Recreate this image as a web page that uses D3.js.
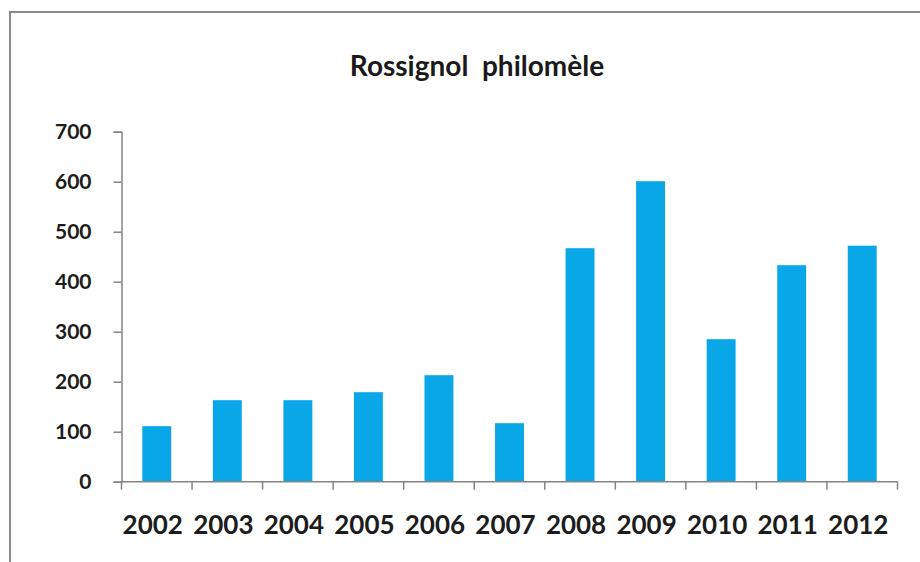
<!DOCTYPE html>
<html>
<head>
<meta charset="utf-8">
<script src="https://cdn.jsdelivr.net/npm/d3@7"></script>
<style>
  html, body { margin: 0; padding: 0; background: #fff; }
  svg { display: block; }
</style>
</head>
<body>
<svg id="chart" width="920" height="562"></svg>
<script>
// Annual counts, Rossignol philomèle
const years = ["2002", "2003", "2004", "2005", "2006", "2007", "2008", "2009", "2010", "2011", "2012"];
const counts = [111, 163, 163, 179, 213, 117, 467, 601, 285, 433, 472];
const yTicks = [0, 100, 200, 300, 400, 500, 600, 700];
const title = "Rossignol  philomèle";

const svg = d3.select("#chart");
const W = 920, H = 562;

// frame (only top and left edges fall inside the canvas)
svg.append("rect")
  .attr("x", 10).attr("y", 12)
  .attr("width", W + 20).attr("height", H + 20)
  .attr("fill", "#fff")
  .attr("stroke", "#8a8a8a").attr("stroke-width", 2);

const x = d3.scaleBand()
  .domain(years)
  .range([121.5, 897.5])
  .paddingInner(0.59)
  .paddingOuter(0.295);

const y = d3.scaleLinear()
  .domain([0, 700])
  .range([481.7, 131.7]);

// bars
svg.append("g")
  .selectAll("rect")
  .data(years.map((yr, i) => ({ yr, v: counts[i] })))
  .join("rect")
  .attr("x", d => x(d.yr))
  .attr("y", d => y(d.v))
  .attr("width", x.bandwidth())
  .attr("height", d => y(0) - y(d.v))
  .attr("fill", "#09a7e7");

const axisColor = "#858585";
const labelFont = "Lato, 'Open Sans', sans-serif";

// y axis
const yAxis = svg.append("g")
  .attr("transform", "translate(121.5,0)")
  .call(d3.axisLeft(y).tickValues(yTicks).tickSize(8).tickPadding(22).tickFormat(d3.format("d")));
yAxis.select(".domain").attr("stroke", axisColor).attr("stroke-width", 1.5);
yAxis.selectAll(".tick line").attr("stroke", axisColor).attr("stroke-width", 1.5);
yAxis.selectAll(".tick text")
  .attr("fill", "#1c1c1c")
  .style("font-family", labelFont)
  .style("font-weight", "bold")
  .style("font-size", "21px");

// x axis: ticks sit on the category boundaries
const xAxisG = svg.append("g").attr("transform", "translate(0,481.7)");
xAxisG.append("line")
  .attr("x1", 121.5).attr("x2", 897.5)
  .attr("stroke", axisColor).attr("stroke-width", 1.5);
const bounds = years.map(yr => x(yr) - x.step() * x.paddingInner() / 2).concat([897.5]);
bounds[0] = 121.5;
xAxisG.selectAll("line.tk")
  .data(bounds)
  .join("line")
  .attr("class", "tk")
  .attr("x1", d => d).attr("x2", d => d)
  .attr("y1", 0).attr("y2", 8)
  .attr("stroke", axisColor).attr("stroke-width", 1.5);
xAxisG.selectAll("text")
  .data(years)
  .join("text")
  .attr("x", d => x(d) + x.bandwidth() / 2 - 4)
  .attr("y", 52)
  .attr("text-anchor", "middle")
  .attr("fill", "#1c1c1c")
  .style("font-family", labelFont)
  .style("font-weight", "bold")
  .style("font-size", "26px")
  .text(d => d);

// title
svg.append("text")
  .attr("x", 477).attr("y", 76)
  .attr("text-anchor", "middle")
  .attr("fill", "#1a1a1a")
  .style("font-family", labelFont)
  .style("font-weight", "bold")
  .style("font-size", "28px")
  .style("white-space", "pre")
  .text(title);
</script>
</body>
</html>
